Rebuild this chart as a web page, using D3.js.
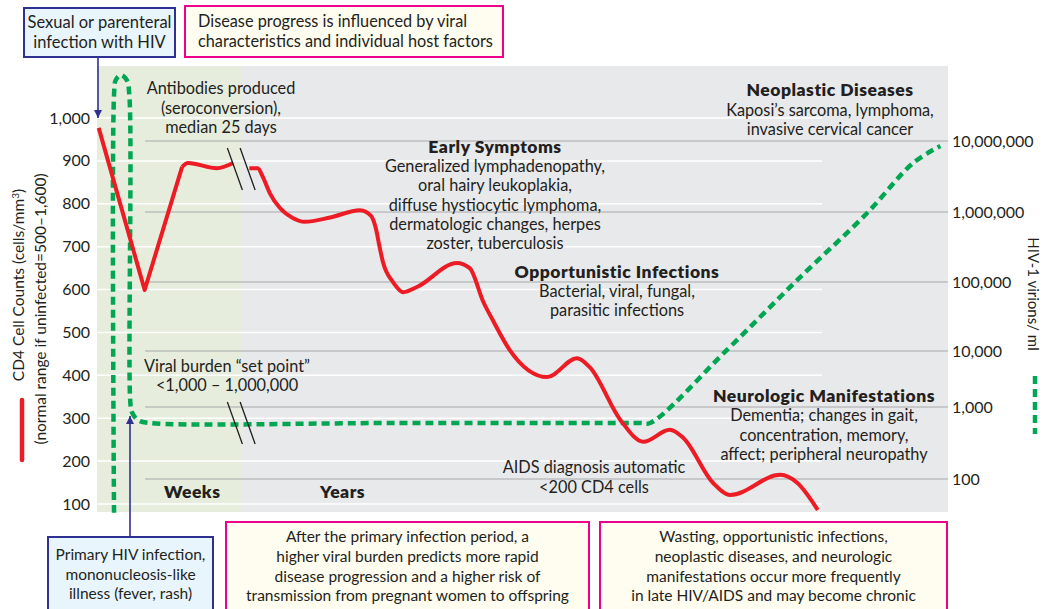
<!DOCTYPE html>
<html>
<head>
<meta charset="utf-8">
<script src="https://cdn.jsdelivr.net/npm/d3@7"></script>
<style>
  body { margin: 0; background: #fff; }
  svg { display: block; font-family: Lato, "Open Sans", sans-serif; }
</style>
</head>
<body>
<svg id="chart" width="1042" height="609"></svg>
<script>
// CD4 counts, primary infection (weeks) [time, cells/mm3]
const cd4Weeks = [[0.2, 977], [5.6, 599], [10.0, 886], [10.7, 895], [14.1, 883], [16.0, 895]];
// CD4 counts, chronic phase (years)
const cd4Years = [
  [17.9, 883], [18.9, 883], [19.5, 862], [20.3, 825], [21.5, 790], [23.0, 767], [24.4, 758],
  [27.4, 768], [30.9, 785], [32.2, 772], [32.8, 740], [33.2, 700], [33.6, 664],
  [34.8, 617], [36.0, 594], [37.6, 606], [42.3, 662], [43.8, 650], [45.4, 571],
  [46.5, 529], [48.5, 459], [52.9, 396], [56.4, 440], [57.9, 419], [61.5, 296],
  [64.2, 245], [67.3, 273], [68.9, 254], [72.4, 149], [74.4, 121], [80.3, 168],
  [82.3, 149], [84.7, 86]
];
// HIV-1 virions/ml
const viralLoad = [
  [2.0, 34], [2.0, 4.4e7], [2.2, 7.2e7], [2.8, 8.5e7], [3.5, 7.2e7], [3.8, 4.4e7],
  [3.9, 1330], [4.1, 850], [4.8, 660], [6.2, 600], [35, 600], [63.8, 600], [65.0, 600],
  [74.0, 10300], [82.3, 107000], [90.5, 968000], [95.9, 4.9e6], [99.1, 8.5e6]
];

const cd4Ticks = [100, 200, 300, 400, 500, 600, 700, 800, 900, 1000];
const virTicks = [100, 1000, 10000, 100000, 1000000, 10000000];
const virTickLabels = ["100", "1,000", "10,000", "100,000", "1,000,000", "10,000,000"];

const svg = d3.select('#chart');
const ink = '#231f20';
const red = '#ed1c24';
const green = '#00a651';
const blue = '#2e3192';
const pink = '#ec008c';

const x = d3.scaleLinear().domain([0, 100]).range([97, 948]);
const yCD4 = d3.scaleLinear().domain([100, 1000]).range([504, 118]);
const yVir = d3.scaleLog()
  .domain(virTicks)
  .range([479, 407, 351, 282, 212, 141]);

const weeksEnd = 17.04;

// Backgrounds
svg.append('rect').attr('x', x(0)).attr('y', 66)
  .attr('width', x(weeksEnd) - x(0)).attr('height', 446).attr('fill', '#e6eddd');
svg.append('rect').attr('x', x(weeksEnd)).attr('y', 66)
  .attr('width', x(100) - x(weeksEnd)).attr('height', 446).attr('fill', '#e8e9eb');

// White CD4 grid lines
svg.append('g').selectAll('line').data(cd4Ticks).enter().append('line')
  .attr('x1', x(0)).attr('x2', x(85.2))
  .attr('y1', d => yCD4(d)).attr('y2', d => yCD4(d))
  .attr('stroke', '#fff').attr('stroke-width', 1.5);

// Gray virion grid lines
svg.append('g').selectAll('line').data(virTicks).enter().append('line')
  .attr('x1', x(5.64)).attr('x2', x(100))
  .attr('y1', d => yVir(d)).attr('y2', d => yVir(d))
  .attr('stroke', '#a7a8aa').attr('stroke-width', 1);

// Left tick labels
svg.append('g').selectAll('text').data(cd4Ticks).enter().append('text')
  .attr('x', 90).attr('y', d => yCD4(d)).attr('dy', '0.35em')
  .attr('text-anchor', 'end').attr('font-size', 16).attr('fill', ink)
  .text(d => d3.format(',')(d));

// Right tick labels
svg.append('g').selectAll('text').data(virTicks).enter().append('text')
  .attr('x', 952).attr('y', d => yVir(d)).attr('dy', '0.35em')
  .attr('font-size', 16).attr('fill', ink)
  .text((d, i) => virTickLabels[i]);

// Axis titles
const lt = svg.append('g').attr('fill', ink).attr('font-size', 15.5).attr('text-anchor', 'middle');
lt.append('text').attr('transform', 'translate(24,285) rotate(-90)')
  .html('CD4 Cell Counts (cells/mm<tspan dy="-5" font-size="10">3</tspan><tspan dy="5">)</tspan>');
lt.append('text').attr('transform', 'translate(46,309) rotate(-90)')
  .text('(normal range if uninfected=500\u20131,600)');
svg.append('line').attr('x1', 22).attr('x2', 22).attr('y1', 400).attr('y2', 460)
  .attr('stroke', red).attr('stroke-width', 4.5).attr('stroke-linecap', 'round');

svg.append('text').attr('transform', 'translate(1028,294) rotate(90)')
  .attr('text-anchor', 'middle').attr('font-size', 15).attr('fill', ink)
  .text('HIV-1 virions/ ml');
svg.append('line').attr('x1', 1035).attr('x2', 1035).attr('y1', 376).attr('y2', 434)
  .attr('stroke', green).attr('stroke-width', 4.5).attr('stroke-dasharray', '8,5');

// Annotations inside the plot
function block(cx, y0, lines, step, boldFirst) {
  const g = svg.append('g').attr('fill', ink).attr('text-anchor', 'middle');
  lines.forEach((t, i) => {
    const head = boldFirst && i === 0;
    g.append('text').attr('x', cx).attr('y', y0 + i * step)
      .attr('font-weight', head ? 800 : 400)
      .attr('font-size', head ? 17.5 : 16.3)
      .attr('letter-spacing', head ? 0.5 : 0)
      .text(t);
  });
}
block(221, 94, ['Antibodies produced', '(seroconversion),', 'median 25 days'], 19.5, false);
block(495, 153, ['Early Symptoms', 'Generalized lymphadenopathy,', 'oral hairy leukoplakia,',
  'diffuse hystiocytic lymphoma,', 'dermatologic changes, herpes', 'zoster, tuberculosis'], 19.2, true);
block(617, 278, ['Opportunistic Infections', 'Bacterial, viral, fungal,', 'parasitic infections'], 18.8, true);
block(830, 96, ['Neoplastic Diseases', 'Kaposi\u2019s sarcoma, lymphoma,', 'invasive cervical cancer'], 19.5, true);
block(824, 402, ['Neurologic Manifestations', 'Dementia; changes in gait,', 'concentration, memory,',
  'affect; peripheral neuropathy'], 19.3, true);
block(594, 473, ['AIDS diagnosis automatic', '<200 CD4 cells'], 20, false);
block(227, 372, ['Viral burden \u201cset point\u201d', '<1,000 \u2013 1,000,000'], 18.5, false);

svg.append('text').attr('x', 164).attr('y', 498).attr('font-weight', 800)
  .attr('font-size', 17.5).attr('letter-spacing', 0.5).attr('fill', ink).text('Weeks');
svg.append('text').attr('x', 320).attr('y', 498).attr('font-weight', 800)
  .attr('font-size', 17.5).attr('letter-spacing', 0.5).attr('fill', ink).text('Years');

// Curves
const lineLin = d3.line().x(d => x(d[0])).y(d => yCD4(d[1]));
const lineSmooth = d3.line().x(d => x(d[0])).y(d => yCD4(d[1])).curve(d3.curveMonotoneX);
const lineVir = d3.line().x(d => x(d[0])).y(d => yVir(d[1])).curve(d3.curveCatmullRom.alpha(0.5));

svg.append('path').datum(viralLoad).attr('d', lineVir)
  .attr('fill', 'none').attr('stroke', green).attr('stroke-width', 4.5)
  .attr('stroke-dasharray', '8,5');

const redStyle = p => p.attr('fill', 'none').attr('stroke', red).attr('stroke-width', 4)
  .attr('stroke-linejoin', 'round');
svg.append('path').datum(cd4Weeks.slice(0, 3)).attr('d', lineLin).call(redStyle);
svg.append('path').datum(cd4Weeks.slice(2)).attr('d', lineSmooth).call(redStyle);
svg.append('path').datum(cd4Years).attr('d', lineSmooth).call(redStyle);

// Break marks
function breakMarks(cy) {
  [16.2, 17.7].forEach(t => {
    svg.append('line')
      .attr('x1', x(t) - 7.5).attr('y1', cy - 21)
      .attr('x2', x(t) + 7.5).attr('y2', cy + 21)
      .attr('stroke', ink).attr('stroke-width', 1.3);
  });
}
breakMarks(yCD4(881));
breakMarks(yVir(600));

// Arrows and boxes
const defs = svg.append('defs');
defs.append('marker').attr('id', 'arr').attr('viewBox', '0 0 10 10')
  .attr('refX', 10).attr('refY', 5).attr('markerWidth', 8).attr('markerHeight', 8)
  .attr('markerUnits', 'userSpaceOnUse').attr('orient', 'auto')
  .append('path').attr('d', 'M0,0L10,5L0,10z').attr('fill', blue);

svg.append('line').attr('x1', 98).attr('x2', 98).attr('y1', 57).attr('y2', 118)
  .attr('stroke', blue).attr('stroke-width', 1.6).attr('marker-end', 'url(#arr)');
svg.append('line').attr('x1', 130).attr('x2', 130).attr('y1', 537).attr('y2', 416)
  .attr('stroke', blue).attr('stroke-width', 1.6).attr('marker-end', 'url(#arr)');

function box(x0, y0, w, h, stroke, fill, lines, tx, baselines, anchor, fs) {
  svg.append('rect').attr('x', x0).attr('y', y0).attr('width', w).attr('height', h)
    .attr('fill', fill).attr('stroke', stroke).attr('stroke-width', 2);
  const g = svg.append('g').attr('fill', ink).attr('font-size', fs).attr('text-anchor', anchor);
  lines.forEach((t, i) => g.append('text').attr('x', tx).attr('y', baselines[i]).text(t));
}
box(24, 8, 151, 49, blue, '#e8f5fc', ['Sexual or parenteral', 'infection with HIV'], 99.5, [28, 48], 'middle', 16.5);
box(185, 6, 318, 51, pink, '#fffdf0', ['Disease progress is influenced by viral',
  'characteristics and individual host factors'], 198, [27, 47], 'start', 16.3);
box(48, 537, 165, 80, blue, '#e8f5fc', ['Primary HIV infection,', 'mononucleosis-like',
  'illness (fever, rash)'], 130.5, [560, 580, 599], 'middle', 15.5);
box(226, 522, 363, 95, pink, '#fffdf0', ['After the primary infection period, a',
  'higher viral burden predicts more rapid', 'disease progression and a higher risk of',
  'transmission from pregnant women to offspring'], 407.5, [542, 562, 582, 601], 'middle', 15.5);
box(600, 522, 347, 95, pink, '#fffdf0', ['Wasting, opportunistic infections,',
  'neoplastic diseases, and neurologic', 'manifestations occur more frequently',
  'in late HIV/AIDS and may become chronic'], 773.5, [542, 562, 582, 601], 'middle', 15.5);
</script>
</body>
</html>
